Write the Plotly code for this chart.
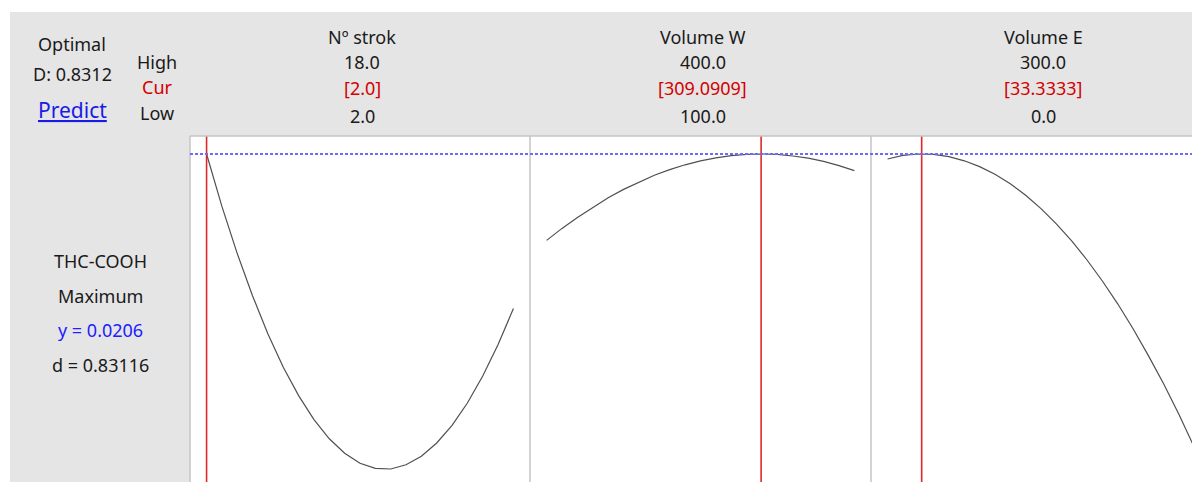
import plotly.graph_objects as go

W, H = 1200, 482
OFF = 8  # the page body margin shifts the figure by 8px

factors = ["Nº strok", "Volume W", "Volume E"]
high_vals = [18.0, 400.0, 300.0]
low_vals = [2.0, 100.0, 0.0]
cur_vals = [2.0, 309.0909, 33.3333]
cur_text = ["[2.0]", "[309.0909]", "[33.3333]"]

response = "THC-COOH"
goal = "Maximum"
y_opt = 0.0206
d_ind = 0.83116
D_comp = 0.8312

strok_x = [2.0, 2.8, 3.6, 4.4, 5.2, 6.0, 6.8, 7.6, 8.4, 9.2, 10.0,
           10.8, 11.6, 12.4, 13.2, 14.0, 14.8, 15.6, 16.4, 17.2, 18.0]
strok_y = [0.02060, 0.01798, 0.01562, 0.01350, 0.01160, 0.00994, 0.00852,
           0.00732, 0.00636, 0.00564, 0.00514, 0.00488, 0.00485, 0.00506,
           0.00549, 0.00615, 0.00703, 0.00815, 0.00950, 0.01107, 0.01287]

volw_x = [100, 115, 130, 145, 160, 175, 190, 205, 220, 235, 250,
          265, 280, 295, 310, 325, 340, 355, 370, 385, 400]
volw_y = [0.01628, 0.01688, 0.01743, 0.01794, 0.01841, 0.01883, 0.01920,
          0.01954, 0.01982, 0.02006, 0.02026, 0.02041, 0.02052, 0.02058,
          0.02060, 0.02058, 0.02050, 0.02039, 0.02023, 0.02002, 0.01977]

vole_x = [0, 15, 30, 45, 60, 75, 90, 105, 120, 135, 150,
          165, 180, 195, 210, 225, 240, 255, 270, 285, 300]
vole_y = [0.02035, 0.02053, 0.02060, 0.02058, 0.02047, 0.02026, 0.01997,
          0.01959, 0.01911, 0.01854, 0.01787, 0.01711, 0.01626, 0.01530,
          0.01425, 0.01311, 0.01186, 0.01052, 0.00910, 0.00756, 0.00592]

curves = [(strok_x, strok_y), (volw_x, volw_y), (vole_x, vole_y)]
y_range = [0.0038, 0.0215]


def px(x):
    # page pixel -> paper fraction
    return (x - OFF) / W


def py(y):
    return 1 - (y - OFF) / H


FONT = "Noto Sans"
INK = "#1a1a1a"
RED = "#d40000"
BLUE = "#2020ff"

panel_left = [190, 530, 871]
panel_right = [530, 871, 1211]
panel_top = 136
pad = 0.054
page_right = W + OFF

fig = go.Figure()
layout = dict(width=W, height=H, margin=dict(l=0, r=0, t=0, b=0),
              paper_bgcolor="#e5e5e5", plot_bgcolor="white",
              showlegend=False, font=dict(family=FONT, color=INK, size=18))
shapes = []
annotations = []

for i, (xs, ys) in enumerate(curves):
    n = "" if i == 0 else str(i + 1)
    lo, hi = low_vals[i], high_vals[i]
    span = hi - lo
    x0 = lo - pad * span
    x1 = hi + pad * span
    right = min(panel_right[i], page_right)
    # keep px->data scale when the last panel is clipped by the page edge
    x1 = x0 + (x1 - x0) * (right - panel_left[i]) / (panel_right[i] - panel_left[i])
    layout["xaxis" + n] = dict(domain=[px(panel_left[i]), px(right)],
                               range=[x0, x1], visible=False,
                               anchor="y" + n)
    layout["yaxis" + n] = dict(domain=[0, py(panel_top)], range=y_range,
                               visible=False, anchor="x" + n)
    fig.add_trace(go.Scatter(x=xs, y=ys, mode="lines",
                             line=dict(color="#505050", width=1.2),
                             xaxis="x" + n, yaxis="y" + n,
                             hoverinfo="skip"))
    # current setting
    shapes.append(dict(type="line", xref="x" + n, yref="y" + n + " domain",
                       x0=cur_vals[i], x1=cur_vals[i], y0=0, y1=1,
                       line=dict(color="#e02828", width=1.6), layer="above"))
    # panel border
    shapes.append(dict(type="line", xref="paper", yref="paper",
                       x0=px(panel_left[i]), x1=px(panel_left[i]),
                       y0=0, y1=py(panel_top),
                       line=dict(color="#c4c4c4", width=1.5), layer="above"))
    # column header
    cx = px((panel_left[i] + panel_right[i]) / 2 + 2)
    for txt, yy, col in [(factors[i], 37, INK),
                         (f"{hi:.1f}", 62, INK),
                         (cur_text[i], 88, RED),
                         (f"{lo:.1f}", 116, INK)]:
        annotations.append(dict(text=txt, x=cx, y=py(yy), xref="paper",
                                yref="paper", showarrow=False,
                                xanchor="center", yanchor="middle",
                                font=dict(color=col)))

# optimum response line
shapes.append(dict(type="line", xref="paper", yref="y",
                   x0=px(190), x1=1, y0=y_opt, y1=y_opt,
                   line=dict(color="#6a6aff", width=2, dash="3px,2px"),
                   layer="above"))
shapes.append(dict(type="line", xref="paper", yref="paper",
                   x0=px(190), x1=1, y0=py(panel_top), y1=py(panel_top),
                   line=dict(color="#c4c4c4", width=1.5), layer="above"))
# white margins at top and left
shapes.append(dict(type="rect", xref="paper", yref="paper",
                   x0=0, x1=1, y0=py(12), y1=1, fillcolor="white",
                   line=dict(width=0), layer="above"))
shapes.append(dict(type="rect", xref="paper", yref="paper",
                   x0=0, x1=px(10), y0=0, y1=1, fillcolor="white",
                   line=dict(width=0), layer="above"))

left_texts = [
    ("Optimal", 72, 44, INK, 18),
    (f"D: {D_comp}", 72, 74, INK, 18),
    ("<u>Predict</u>", 72, 110, "#1a1ae8", 21),
    ("High", 157, 62, INK, 18),
    ("Cur", 157, 87, RED, 18),
    ("Low", 157, 113, INK, 18),
    (response, 100, 261, INK, 18),
    (goal, 100, 296, INK, 18),
    (f"y = {y_opt}", 100, 330, BLUE, 18),
    (f"d = {d_ind}", 100, 365, INK, 18),
]
for txt, x, y, col, sz in left_texts:
    annotations.append(dict(text=txt, x=px(x), y=py(y), xref="paper",
                            yref="paper", showarrow=False,
                            xanchor="center", yanchor="middle",
                            font=dict(color=col, size=sz)))

layout["shapes"] = shapes
layout["annotations"] = annotations
fig.update_layout(**layout)
fig.write_html("out.html")
